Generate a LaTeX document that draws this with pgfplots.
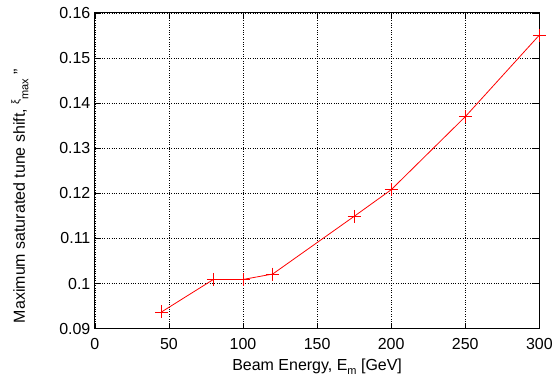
\documentclass[border=0pt]{standalone}
\usepackage{pgfplots}
\pgfplotsset{compat=1.18}
\usepackage{fontspec}
\setmainfont{Liberation Sans}
\begin{document}
\begin{tikzpicture}[x=1bp,y=1bp]
\begin{axis}[
  scale only axis,
  width=445bp, height=316bp,
  at={(0,0)}, anchor=south west,
  xmin=0, xmax=300, ymin=0.09, ymax=0.16,
  xtick={0,50,...,300},
  ytick={0.09,0.10,...,0.16},
  yticklabels={0.09,0.1,0.11,0.12,0.13,0.14,0.15,0.16},
  /pgf/number format/assume math mode=true,
  tick align=inside,
  major tick length=6bp,
  tick style={black, line width=0.6bp},
  axis line style={black, line width=1bp},
  grid=major,
  grid style={black, dotted, line width=0.6bp},
  ticklabel style={font=\fontsize{16bp}{18bp}\selectfont},
  label style={font=\fontsize{16bp}{18bp}\selectfont},
  xticklabel style={yshift=-6bp},
  yticklabel style={xshift=-1bp},
  xlabel={Beam Energy, E\raisebox{-0.4ex}{\fontsize{11bp}{11bp}\selectfont m} [GeV]},
  ylabel={Maximum saturated tune shift, \raisebox{0.65ex}{\fontsize{11bp}{11bp}\selectfont ξ}\raisebox{-0.4ex}{\fontsize{11bp}{11bp}\selectfont max} "},
  xlabel style={yshift=-3bp},
  ylabel style={at={(ticklabel cs:0.42)}, yshift=24bp},
]
\addplot[red, line width=0.8bp, mark=+, mark size=6.5bp, mark options={line width=0.8bp}] coordinates {
(45,0.0937) (80,0.1009) (100,0.1009) (120,0.1021) (175,0.1149) (200,0.1208) (250,0.1370) (300,0.1551)
};
\end{axis}
\useasboundingbox (-95,-51) rectangle (461,329);
\end{tikzpicture}
\end{document}
